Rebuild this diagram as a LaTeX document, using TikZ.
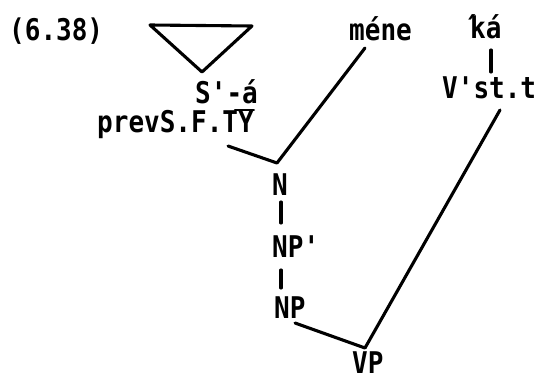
\documentclass[tikz,border=0pt]{standalone}
\usepackage{fontspec}
\usepackage{graphicx}
\setmonofont{DejaVu Sans Mono}
\usetikzlibrary{calc}
\newcommand\tx[1]{\scalebox{1}[1.15]{#1}}
\begin{document}
\begin{tikzpicture}[x=1pt,y=-1pt,
  lbl/.style={inner sep=0pt, font=\ttfamily\bfseries\fontsize{26}{30}\selectfont, anchor=base west},
  edge/.style={line width=3.1pt, line cap=round, line join=round}]
\useasboundingbox (0,0) rectangle (542,378);
\node[lbl] (ex) at (9,40) {\tx{(6.38)}};
\coordinate (tl) at (150,25);
\coordinate (tr) at (252,26);
\coordinate (ta) at (202,72);
\draw[edge] (tl) -- (tr) -- (ta) -- cycle;
\node[lbl] (sa) at (195,103) {\tx{S'-á}};
\node[lbl] (prev) at (97,132) {\tx{prevS.F.TY}};
\draw[edge, line width=2.2pt] ($(prev.base east)+(-19,-22)$) coordinate (ovl) -- ($(prev.base east)+(0,-22)$) coordinate (ovr);
\node[lbl] (mene) at (349,40) {\tx{méne}};
\node[lbl] (ka) at (470,38) {\tx{\makebox[0pt]{´}ká}};
\node[lbl] (vst) at (442,98) {\tx{V'st.t}};
\node[lbl] (N) at (272,195) {\tx{N}};
\node[lbl] (NPp) at (272,257) {\tx{NP'}};
\node[lbl] (NP) at (274,318) {\tx{NP}};
\node[lbl] (VP) at (352,373) {\tx{VP}};
\coordinate (p1) at (228,146);
\coordinate (nj) at (277,163);
\coordinate (m1) at (365,48);
\coordinate (np1) at (295,323);
\coordinate (vj) at (365,348);
\coordinate (v1) at (500,110);
\coordinate (t1a) at (281,202); \coordinate (t1b) at (281,223);
\coordinate (t2a) at (281,270); \coordinate (t2b) at (281,288);
\coordinate (t3a) at (491,50);  \coordinate (t3b) at (491,72);
\draw[edge] (p1) -- (nj) -- (m1);
\draw[edge] (np1) -- (vj) -- (v1);
\draw[edge] (t1a) -- (t1b);
\draw[edge] (t2a) -- (t2b);
\draw[edge] (t3a) -- (t3b);
\end{tikzpicture}
\end{document}
